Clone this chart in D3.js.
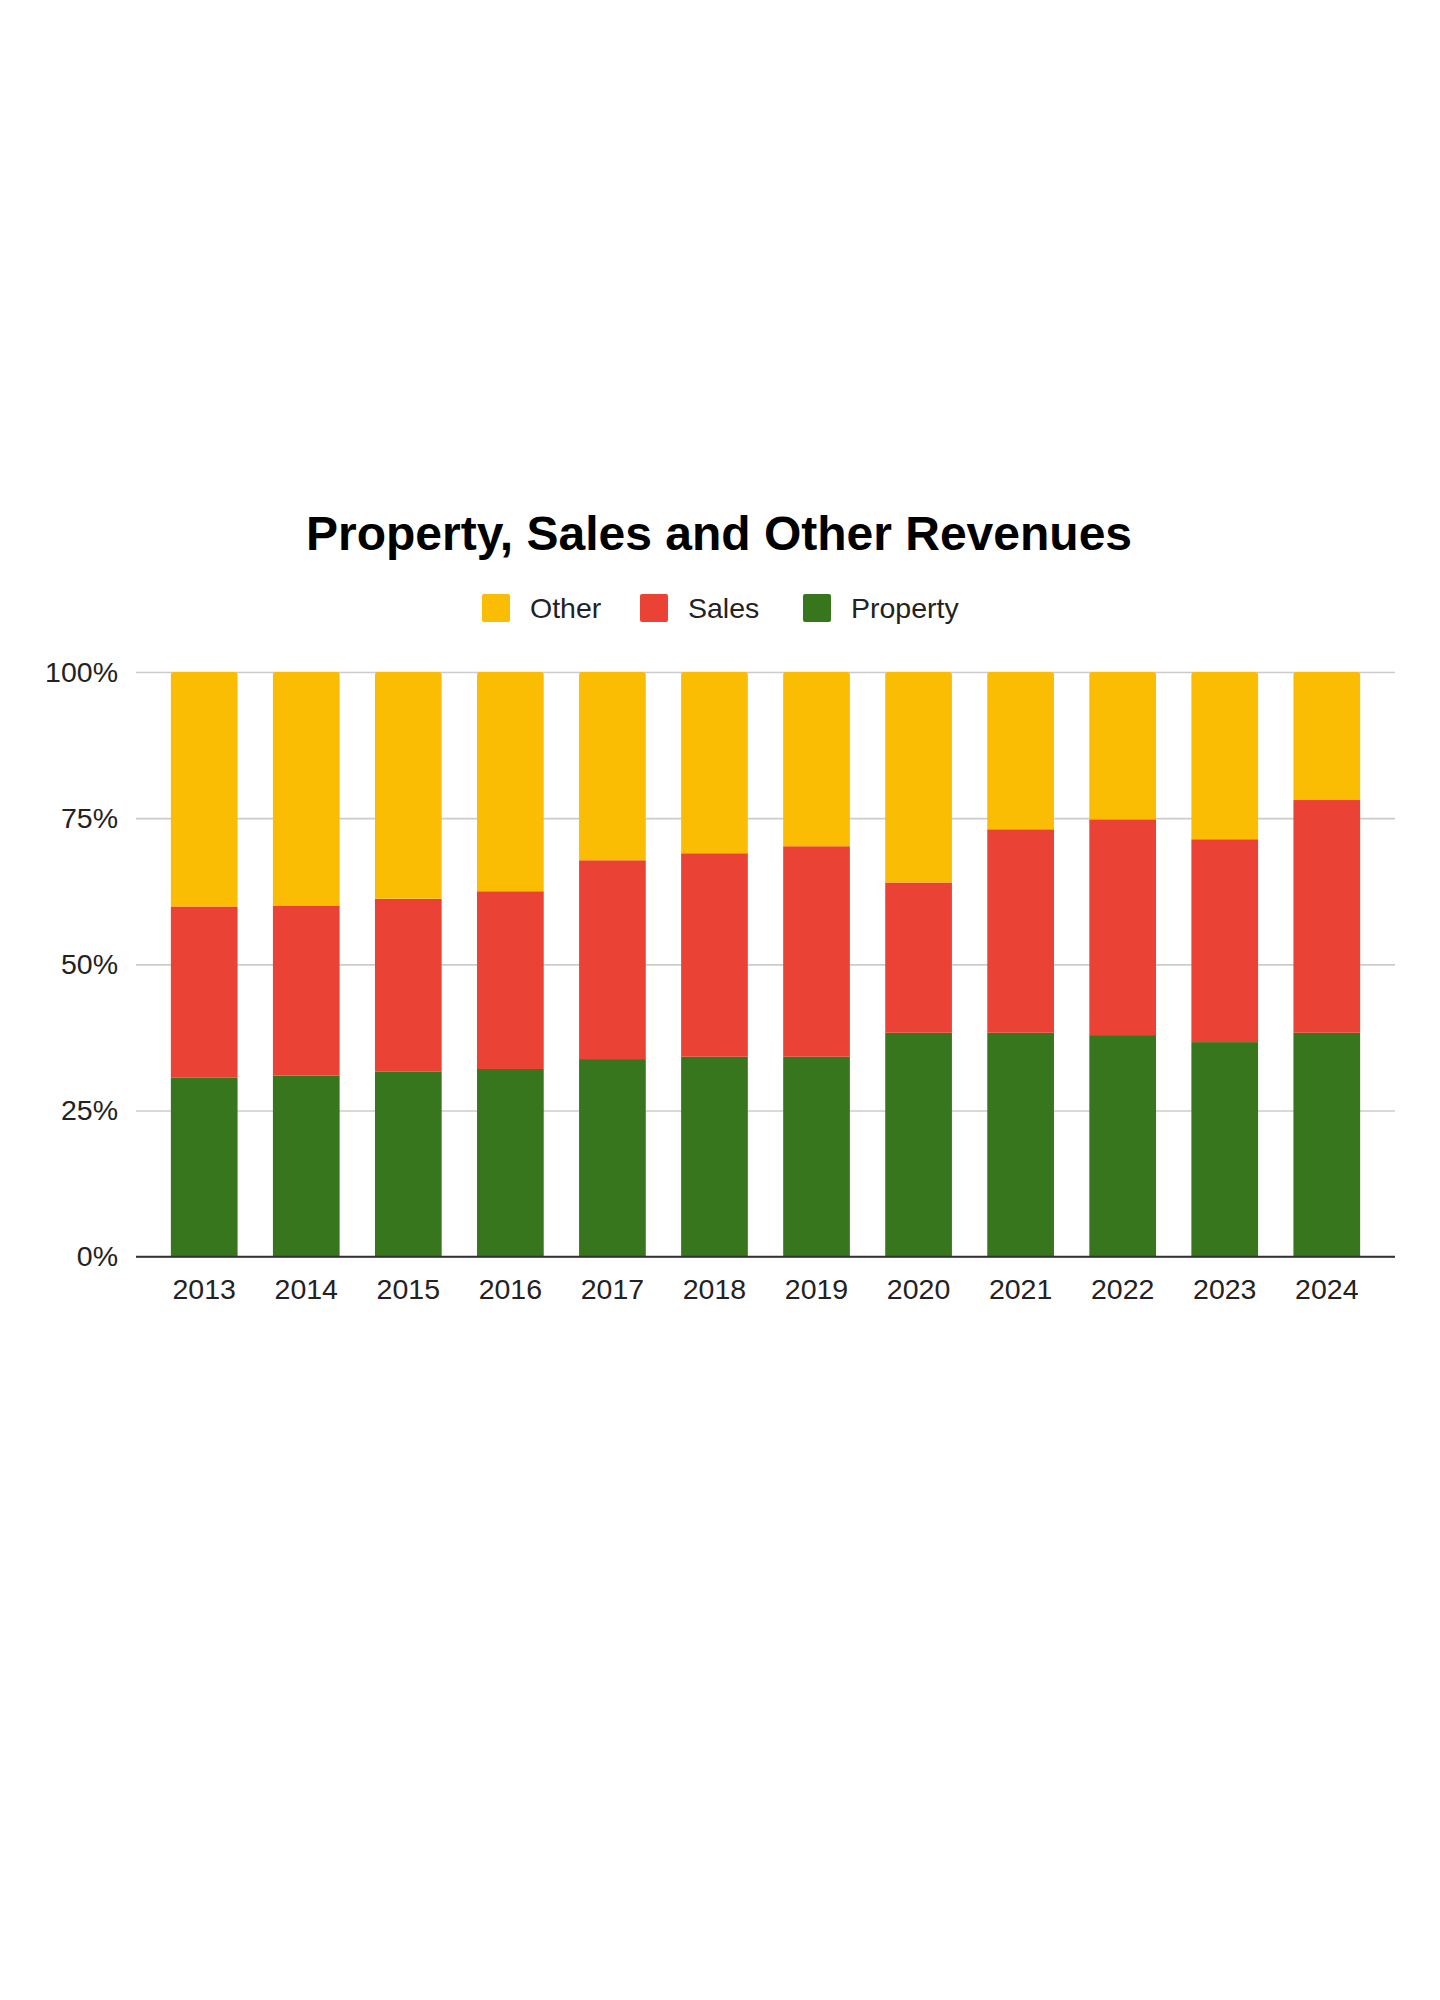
<!DOCTYPE html>
<html>
<head>
<meta charset="utf-8">
<script src="https://cdn.jsdelivr.net/npm/d3@7"></script>
<style>
  html, body { margin: 0; padding: 0; background: #ffffff; }
  svg { display: block; }
  text { font-family: "Liberation Sans", Arial, Helvetica, sans-serif; }
</style>
</head>
<body>
<svg id="chart" width="1440" height="2000"></svg>
<script>
// ---- Data (shares of total revenue, %) ----
const years = ["2013","2014","2015","2016","2017","2018","2019","2020","2021","2022","2023","2024"];
const property = [30.6, 31.0, 31.7, 32.1, 33.8, 34.2, 34.2, 38.3, 38.3, 37.9, 36.7, 38.3];
const sales    = [29.3, 29.0, 29.5, 30.4, 34.0, 34.8, 36.0, 25.7, 34.8, 36.9, 34.7, 39.8];
const other    = [40.1, 40.0, 38.8, 37.5, 32.2, 31.0, 29.8, 36.0, 26.9, 25.2, 28.6, 21.9];
const seriesNames = ["Property", "Sales", "Other"];
const legendOrder = ["Other", "Sales", "Property"];
const yTicks = [0, 0.25, 0.5, 0.75, 1];
const titleText = "Property, Sales and Other Revenues";

const colors = { Property: "#38761d", Sales: "#ea4335", Other: "#fbbc04" };

(function () {
const rows = years.map((yr, i) => ({ year: yr, Property: property[i], Sales: sales[i], Other: other[i] }));
// normalise to 100%
rows.forEach(r => { const t = r.Property + r.Sales + r.Other; seriesNames.forEach(k => r[k] = r[k] / t); });

const svg = d3.select("#chart");

const pLeft = 136, pRight = 1395, pTop = 672, pBottom = 1256.7;

const x = d3.scaleBand().domain(years).range([pLeft, pRight]).paddingInner(0.3464).paddingOuter(0.3417);
const y = d3.scaleLinear().domain([0, 1]).range([pBottom, pTop]);

// Title
svg.append("text")
  .attr("x", 719).attr("y", 550)
  .attr("text-anchor", "middle")
  .attr("font-size", 48).attr("font-weight", "bold").attr("fill", "#000")
  .text(titleText);

// Legend
const legendX = { Other: 482, Sales: 640, Property: 803 };
const lg = svg.append("g");
legendOrder.forEach(name => {
  lg.append("rect").attr("x", legendX[name]).attr("y", 594).attr("width", 28).attr("height", 28)
    .attr("rx", 2).attr("fill", colors[name]);
  lg.append("text").attr("x", legendX[name] + 48).attr("y", 618)
    .attr("font-size", 28.5).attr("fill", "#222").text(name);
});

// Gridlines + y labels
const yAxis = d3.axisLeft(y).tickValues(yTicks).tickFormat(d3.format(".0%")).tickSize(-(pRight - pLeft)).tickPadding(18);
const gy = svg.append("g").attr("transform", `translate(${pLeft},0)`).call(yAxis);
gy.select(".domain").remove();
gy.selectAll(".tick line").attr("stroke", "#cccccc").attr("stroke-width", 1.6);
gy.selectAll(".tick text").attr("font-size", 28.5).attr("fill", "#222")
  .attr("font-family", "'Liberation Sans', Arial, sans-serif");

// Stacked bars
const stacked = d3.stack().keys(seriesNames)(rows);
const rad = 3;
function topRounded(x0, y0, w, h, rr) {
  return `M${x0},${y0 + h} L${x0},${y0 + rr} Q${x0},${y0} ${x0 + rr},${y0} L${x0 + w - rr},${y0} Q${x0 + w},${y0} ${x0 + w},${y0 + rr} L${x0 + w},${y0 + h} Z`;
}
stacked.forEach(layer => {
  const key = layer.key;
  const g = svg.append("g").attr("fill", colors[key]);
  layer.forEach(d => {
    const x0 = x(d.data.year), w = x.bandwidth();
    const y0 = y(d[1]), h = y(d[0]) - y(d[1]);
    if (key === "Other") {
      g.append("path").attr("d", topRounded(x0, y0, w, h, rad));
    } else {
      g.append("rect").attr("x", x0).attr("y", y0).attr("width", w).attr("height", h);
    }
  });
});

// X axis baseline + labels
const xAxis = d3.axisBottom(x).tickSize(0).tickPadding(22);
const gx = svg.append("g").attr("transform", `translate(0,${pBottom})`).call(xAxis);
gx.select(".domain").attr("stroke", "#333333").attr("stroke-width", 2)
  .attr("d", `M${pLeft},0H${pRight}`);
gx.selectAll(".tick text").attr("font-size", 28.5).attr("fill", "#222")
  .attr("font-family", "'Liberation Sans', Arial, sans-serif");
})();
</script>
</body>
</html>
